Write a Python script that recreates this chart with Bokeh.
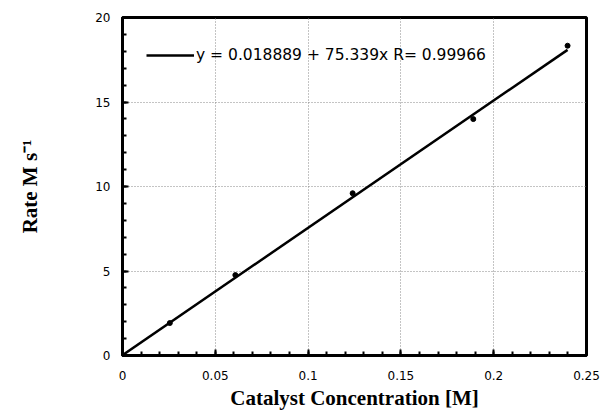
from bokeh.plotting import figure
from bokeh.embed import file_html
from bokeh.resources import INLINE
from bokeh.models import Range1d, FixedTicker, Legend, LegendItem

# data
conc = [0.0, 0.0255, 0.0608, 0.124, 0.189, 0.2398]
rate = [0.0, 1.92, 4.76, 9.6, 13.99, 18.33]
fit_intercept = 0.018889
fit_slope = 75.339
fit_r = 0.99966
x_ticks = [0, 0.05, 0.1, 0.15, 0.2, 0.25]
y_ticks = [0, 5, 10, 15, 20]

fit_x = [0.0, max(conc)]
fit_y = [fit_intercept + fit_slope * v for v in fit_x]

p = figure(width=601, height=412, output_backend="svg", toolbar_location=None,
           x_range=Range1d(0, 0.25), y_range=Range1d(0, 20),
           min_border_left=122, min_border_right=15, min_border_top=17, min_border_bottom=5)
p.background_fill_color = "white"
p.border_fill_color = "white"
p.outline_line_color = "black"
p.outline_line_width = 3

fit = p.line(fit_x, fit_y, line_color="black", line_width=2.5)
p.scatter(conc, rate, size=5, color="black")

legend = Legend(items=[LegendItem(label=f"y = {fit_intercept} + {fit_slope}x R= {fit_r}", renderers=[fit])],
                location=(24, 290))
legend.border_line_color = None
legend.background_fill_alpha = 0
legend.glyph_width = 48
legend.label_text_font = "DejaVu Sans"
legend.label_text_font_size = "15.5px"
legend.label_text_color = "black"
legend.label_standoff = 2
legend.margin = 0
legend.padding = 8
p.add_layout(legend)

for ax in (p.xaxis[0], p.yaxis[0]):
    ax.axis_line_width = 3
    ax.axis_line_color = "black"
    ax.major_tick_in = 6
    ax.major_tick_out = 0
    ax.minor_tick_in = 4
    ax.minor_tick_out = 0
    ax.major_tick_line_width = 2
    ax.minor_tick_line_width = 2
    ax.major_label_text_font = "DejaVu Sans"
    ax.major_label_text_font_size = "12px"
    ax.major_label_text_color = "black"
    ax.axis_label_text_font = "Liberation Serif"
    ax.axis_label_text_font_style = "bold"
    ax.axis_label_text_font_size = "21px"
    ax.axis_label_text_color = "black"

p.xaxis.ticker = FixedTicker(ticks=x_ticks, minor_ticks=[i * 0.01 for i in range(26)])
p.yaxis.ticker = FixedTicker(ticks=y_ticks, minor_ticks=list(range(21)))
p.xaxis.major_label_overrides = {0: "0", 0.05: "0.05", 0.1: "0.1", 0.15: "0.15", 0.2: "0.2", 0.25: "0.25"}
p.xaxis.axis_label = "Catalyst Concentration [M]"
p.yaxis.axis_label = "Rate M s\u207b\u00b9"
p.xaxis.major_label_standoff = 15
p.yaxis.major_label_standoff = 12
p.xaxis.axis_label_standoff = 3
p.yaxis.axis_label_standoff = 50

p.grid.grid_line_color = "#888888"
p.grid.grid_line_dash = "1 2"
p.grid.grid_line_width = 1

open("out.html", "w").write(file_html(p, INLINE))
